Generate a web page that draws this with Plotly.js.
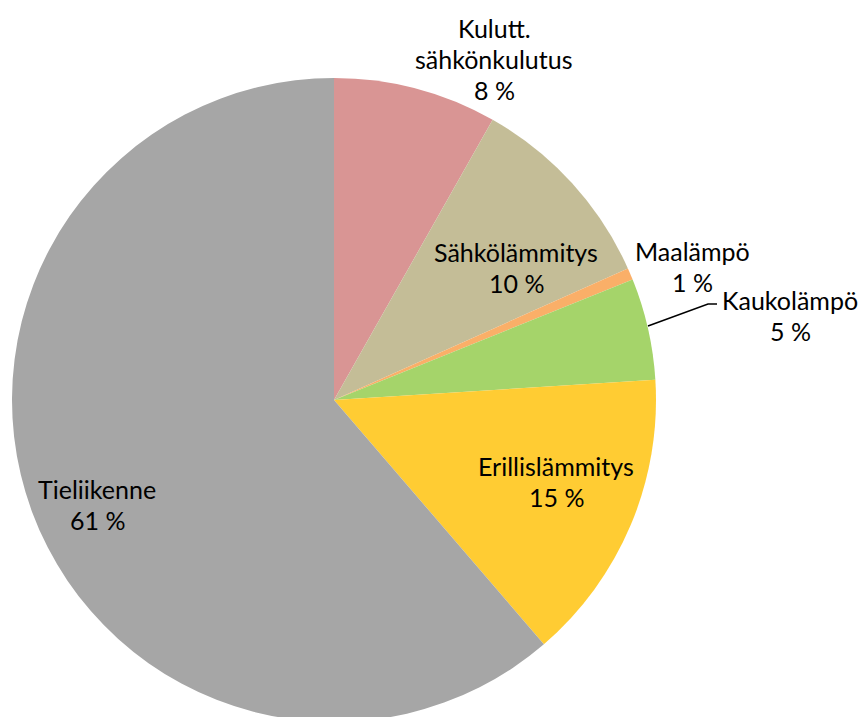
<!DOCTYPE html>
<html><head><meta charset="utf-8">
<script src="https://cdn.plot.ly/plotly-3.0.1.min.js"></script>
<style>html,body{margin:0;padding:0;overflow:hidden;background:#fff}#chart{width:859px;height:730px}</style>
</head><body><div id="chart"></div>
<script>
const categories = ["Kulutt. sähkönkulutus", "Sähkölämmitys", "Maalämpö", "Kaukolämpö", "Erillislämmitys", "Tieliikenne"];
const labelLines = [["Kulutt.", "sähkönkulutus"], ["Sähkölämmitys"], ["Maalämpö"], ["Kaukolämpö"], ["Erillislämmitys"], ["Tieliikenne"]];
const values = [8.2, 10.1, 0.6, 5.1, 14.7, 61.3];
const colors = ["#D99594", "#C4BD97", "#FAAF68", "#A5D46A", "#FFCC33", "#A6A6A6"];

const W = 859, H = 730;
const fx = x => x / W, fy = y => 1 - y / H;
// label anchor centres (pixels): [x, y of first line]
const labelPos = [[494, 28], [516, 252], [692, 251], [790, 300], [556, 466], [97, 489]];
const lineGap = 31;

const annotations = [];
categories.forEach((c, i) => {
  const lines = labelLines[i].concat([Math.round(values[i]) + " %"]);
  lines.forEach((t, k) => {
    annotations.push({
      text: t, xref: "paper", yref: "paper",
      x: fx(labelPos[i][0]), y: fy(labelPos[i][1] + k * lineGap),
      xanchor: "center", yanchor: "middle", showarrow: false,
      font: {family: "Lato, sans-serif", size: 25, color: "#000"}
    });
  });
});

const data = [{
  type: "pie", labels: categories, values: values, sort: false,
  direction: "clockwise", rotation: 0,
  marker: {colors: colors, line: {width: 0}},
  textinfo: "none", hoverinfo: "label+percent",
  domain: {x: [fx(12), fx(656)], y: [fy(722), fy(78)]},
  showlegend: false
}];

const layout = {
  width: W, height: H, margin: {l: 0, r: 0, t: 0, b: 0},
  paper_bgcolor: "#fff", showlegend: false,
  annotations: annotations,
  shapes: [{
    type: "path", xref: "paper", yref: "paper",
    path: `M ${fx(648)} ${fy(326)} L ${fx(708)} ${fy(304)} L ${fx(717)} ${fy(304)}`,
    line: {color: "#000", width: 1.5}
  }]
};
Plotly.newPlot("chart", data, layout, {displayModeBar: false, staticPlot: true});
</script></body></html>
